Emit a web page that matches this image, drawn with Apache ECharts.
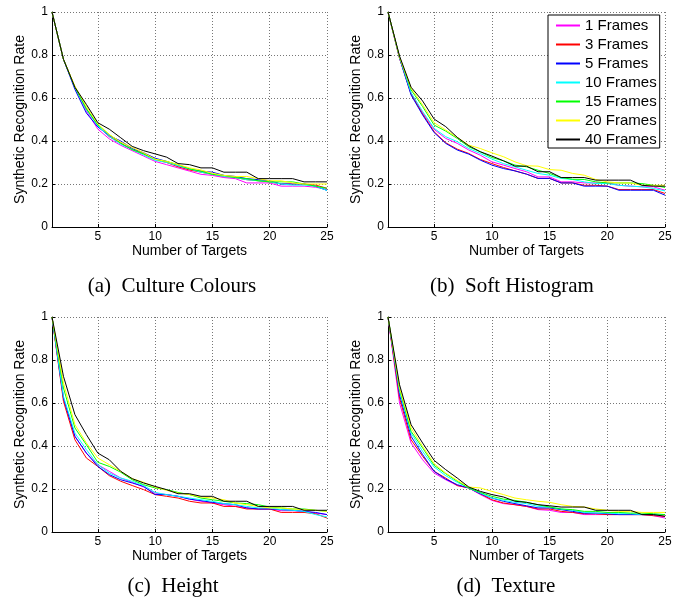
<!DOCTYPE html>
<html>
<head>
<meta charset="utf-8">
<script src="https://cdn.jsdelivr.net/npm/echarts@6/dist/echarts.min.js"></script>
<style>html,body{margin:0;background:#fff}#chart{width:689px;height:602px}</style>
</head>
<body>
<div id="chart"></div>
<script>
// ==================== DATA ====================
const targets = [1,2,3,4,5,6,7,8,9,10,11,12,13,14,15,16,17,18,19,20,21,22,23,24,25];
const frameNames = ['1 Frames', '3 Frames', '5 Frames', '10 Frames', '15 Frames', '20 Frames', '40 Frames'];
const frameColors = ['#ff00ff', '#ff0000', '#0000ff', '#00ffff', '#00ff00', '#ffff00', '#000000'];
const xTicks = [5, 10, 15, 20, 25];
const captions = ['(a)  Culture Colours', '(b)  Soft Histogram', '(c)  Height', '(d)  Texture'];

// one row per frame count, in frameNames order
const cultureColours = [
  [1,0.78,0.65,0.54,0.455,0.41,0.38,0.355,0.33,0.305,0.29,0.275,0.26,0.245,0.24,0.23,0.225,0.205,0.205,0.205,0.19,0.19,0.19,0.185,0.175],
  [1,0.78,0.65,0.55,0.47,0.42,0.39,0.36,0.34,0.315,0.3,0.28,0.265,0.255,0.245,0.235,0.23,0.22,0.215,0.21,0.2,0.2,0.2,0.195,0.18],
  [1,0.78,0.64,0.53,0.465,0.425,0.4,0.365,0.345,0.32,0.305,0.285,0.27,0.26,0.255,0.24,0.235,0.225,0.22,0.215,0.2,0.2,0.2,0.19,0.17],
  [1,0.78,0.65,0.545,0.47,0.42,0.385,0.36,0.335,0.31,0.3,0.285,0.27,0.255,0.245,0.235,0.23,0.22,0.215,0.21,0.2,0.195,0.195,0.19,0.17],
  [1,0.78,0.65,0.55,0.475,0.43,0.39,0.36,0.34,0.315,0.305,0.29,0.27,0.26,0.245,0.24,0.23,0.225,0.215,0.21,0.21,0.21,0.2,0.19,0.18],
  [1,0.78,0.655,0.56,0.48,0.43,0.395,0.37,0.345,0.315,0.305,0.29,0.275,0.265,0.25,0.24,0.235,0.235,0.225,0.215,0.215,0.205,0.2,0.2,0.2],
  [1,0.78,0.65,0.57,0.485,0.455,0.415,0.375,0.355,0.34,0.325,0.295,0.29,0.275,0.275,0.255,0.255,0.255,0.225,0.225,0.225,0.225,0.21,0.21,0.21]
];
const softHistogram = [
  [1,0.79,0.622,0.532,0.454,0.412,0.389,0.358,0.334,0.303,0.288,0.272,0.257,0.233,0.233,0.21,0.21,0.205,0.205,0.205,0.194,0.19,0.187,0.187,0.171],
  [1,0.785,0.619,0.526,0.443,0.392,0.362,0.342,0.314,0.295,0.277,0.261,0.246,0.226,0.226,0.205,0.205,0.194,0.194,0.19,0.174,0.174,0.174,0.174,0.156],
  [1,0.785,0.614,0.521,0.439,0.389,0.358,0.339,0.311,0.288,0.272,0.261,0.246,0.226,0.226,0.205,0.205,0.19,0.19,0.19,0.171,0.171,0.171,0.171,0.148],
  [1,0.79,0.625,0.537,0.459,0.42,0.397,0.365,0.342,0.316,0.295,0.28,0.264,0.249,0.241,0.226,0.221,0.21,0.202,0.202,0.194,0.19,0.187,0.179,0.168],
  [1,0.79,0.638,0.56,0.474,0.446,0.412,0.373,0.35,0.323,0.308,0.288,0.28,0.264,0.249,0.23,0.222,0.221,0.21,0.205,0.205,0.205,0.202,0.194,0.184],
  [1,0.79,0.645,0.568,0.485,0.451,0.417,0.381,0.365,0.345,0.327,0.303,0.285,0.283,0.267,0.264,0.249,0.241,0.221,0.21,0.205,0.205,0.194,0.194,0.194],
  [1,0.795,0.65,0.586,0.502,0.467,0.417,0.378,0.35,0.33,0.308,0.283,0.283,0.257,0.257,0.23,0.23,0.23,0.218,0.218,0.218,0.218,0.194,0.19,0.19]
];
const heightRates = [
  [1,0.623,0.445,0.367,0.313,0.282,0.251,0.231,0.209,0.181,0.174,0.166,0.153,0.143,0.135,0.127,0.119,0.112,0.107,0.107,0.099,0.099,0.096,0.088,0.081],
  [1,0.608,0.429,0.344,0.305,0.262,0.236,0.216,0.197,0.174,0.166,0.158,0.143,0.135,0.135,0.119,0.119,0.107,0.107,0.107,0.091,0.091,0.091,0.085,0.065],
  [1,0.623,0.445,0.367,0.305,0.267,0.243,0.228,0.212,0.174,0.174,0.166,0.153,0.146,0.138,0.132,0.127,0.112,0.107,0.107,0.104,0.101,0.096,0.091,0.081],
  [1,0.631,0.46,0.383,0.313,0.274,0.251,0.236,0.216,0.184,0.174,0.166,0.158,0.15,0.143,0.132,0.127,0.119,0.112,0.112,0.104,0.101,0.096,0.081,0.07],
  [1,0.67,0.484,0.406,0.324,0.305,0.278,0.243,0.22,0.205,0.197,0.184,0.174,0.158,0.15,0.143,0.135,0.132,0.127,0.116,0.112,0.107,0.107,0.101,0.096],
  [1,0.693,0.499,0.414,0.344,0.313,0.282,0.248,0.231,0.209,0.194,0.181,0.174,0.163,0.158,0.15,0.135,0.127,0.119,0.112,0.112,0.107,0.104,0.101,0.096],
  [1,0.724,0.546,0.453,0.367,0.336,0.282,0.248,0.228,0.212,0.197,0.178,0.178,0.166,0.166,0.143,0.143,0.143,0.119,0.119,0.119,0.119,0.101,0.101,0.101]
];
const textureRates = [
  [1,0.6,0.414,0.336,0.274,0.243,0.216,0.205,0.174,0.147,0.132,0.127,0.119,0.104,0.101,0.091,0.091,0.081,0.081,0.081,0.081,0.081,0.081,0.076,0.065],
  [1,0.623,0.429,0.352,0.282,0.251,0.216,0.205,0.178,0.15,0.135,0.127,0.119,0.107,0.107,0.096,0.091,0.085,0.085,0.081,0.081,0.081,0.081,0.076,0.073],
  [1,0.639,0.445,0.36,0.282,0.246,0.22,0.205,0.178,0.158,0.143,0.132,0.122,0.112,0.112,0.104,0.096,0.088,0.088,0.085,0.081,0.081,0.081,0.081,0.081],
  [1,0.654,0.46,0.375,0.302,0.262,0.231,0.205,0.181,0.158,0.147,0.138,0.132,0.119,0.116,0.107,0.101,0.091,0.088,0.088,0.085,0.085,0.081,0.081,0.081],
  [1,0.665,0.468,0.391,0.31,0.271,0.236,0.205,0.184,0.166,0.153,0.147,0.138,0.127,0.116,0.107,0.104,0.096,0.096,0.091,0.091,0.088,0.088,0.085,0.081],
  [1,0.67,0.484,0.398,0.318,0.274,0.24,0.209,0.205,0.189,0.174,0.158,0.15,0.143,0.138,0.127,0.119,0.116,0.107,0.101,0.096,0.096,0.091,0.091,0.091],
  [1,0.685,0.499,0.414,0.333,0.29,0.251,0.209,0.189,0.174,0.163,0.143,0.138,0.127,0.122,0.116,0.116,0.116,0.101,0.101,0.101,0.101,0.081,0.081,0.073]
];

// ==================== LAYOUT ====================
const panelData = [cultureColours, softHistogram, heightRates, textureRates];
const grids = [
  { left: 52, top: 12, width: 275, height: 215 },
  { left: 388, top: 12, width: 277, height: 215 },
  { left: 52, top: 317, width: 275, height: 215 },
  { left: 388, top: 317, width: 277, height: 215 }
];
const captionPos = [[172, 286], [512, 286], [173, 586], [506, 586]];

const sans = 'Liberation Sans';
const gridLine = { show: true, lineStyle: { color: '#777', type: [1, 2], width: 1 } };
const axisBlack = { show: true, onZero: false, lineStyle: { color: '#000', width: 1 } };

const chart = echarts.init(document.getElementById('chart'), null, { renderer: 'canvas' });

const xAxes = grids.map((g, i) => ({
  gridIndex: i, type: 'value', min: 1, max: 25,
  axisLine: axisBlack,
  axisTick: { show: true, inside: true, length: 3, customValues: xTicks, lineStyle: { color: '#000' } },
  axisLabel: { customValues: xTicks, color: '#000', fontSize: 12, fontFamily: sans, margin: 4 },
  splitLine: gridLine,
  name: 'Number of Targets', nameLocation: 'middle', nameGap: 15,
  nameTextStyle: { color: '#000', fontSize: 14, fontFamily: sans }
}));
const yAxes = grids.map((g, i) => ({
  gridIndex: i, type: 'value', min: 0, max: 1, interval: 0.2,
  axisLine: axisBlack,
  axisTick: { show: true, inside: true, length: 3, lineStyle: { color: '#000' } },
  axisLabel: { color: '#000', fontSize: 12, fontFamily: sans, margin: 4 },
  splitLine: gridLine,
  name: 'Synthetic Recognition Rate', nameLocation: 'middle', nameGap: 23,
  nameTextStyle: { color: '#000', fontSize: 14, fontFamily: sans }
}));

const series = [];
panelData.forEach((rows, p) => {
  rows.forEach((vals, k) => {
    series.push({
      name: frameNames[k], type: 'line', xAxisIndex: p, yAxisIndex: p,
      data: targets.map((t, j) => [t, vals[j]]),
      symbol: 'none', color: frameColors[k],
      lineStyle: { color: frameColors[k], width: 1 },
      z: 2 + k
    });
  });
});

chart.setOption({
  animation: false,
  backgroundColor: '#fff',
  grid: grids,
  xAxis: xAxes,
  yAxis: yAxes,
  legend: {
    data: frameNames, orient: 'vertical', left: 548, top: 15,
    padding: [3, 3, 1, 7], itemGap: 4, itemWidth: 24, itemHeight: 15,
    backgroundColor: '#fff', borderColor: '#000', borderWidth: 1, borderRadius: 0,
    itemStyle: { opacity: 0 },
    lineStyle: { width: 2 },
    textStyle: { color: '#000', fontSize: 15, fontFamily: sans, lineHeight: 15 },
    selectedMode: false
  },
  graphic: captions.map((c, i) => ({
    type: 'text', x: captionPos[i][0], y: captionPos[i][1],
    style: { text: c, fill: '#000', font: '21px "Liberation Serif"', align: 'center', verticalAlign: 'middle' }
  })),
  series: series
});
</script>
</body>
</html>
